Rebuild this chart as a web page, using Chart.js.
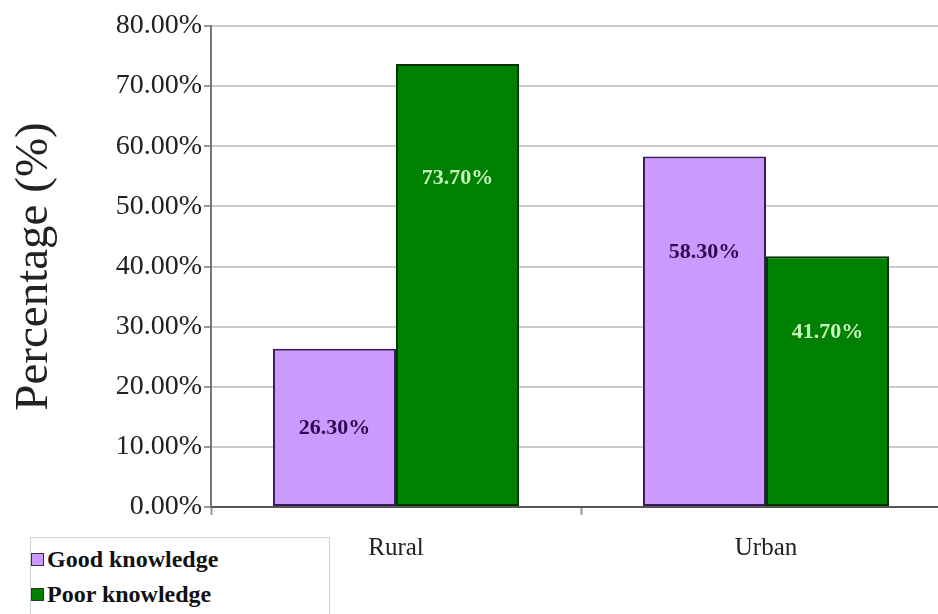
<!DOCTYPE html>
<html>
<head>
<meta charset="utf-8">
<script src="https://cdn.jsdelivr.net/npm/chart.js@4/dist/chart.umd.min.js"></script>
<style>
  html, body { margin: 0; padding: 0; background: #fff; overflow: hidden; }
  body { width: 938px; height: 614px; position: relative; }
  #wrap { position: absolute; left: 0; top: 0; width: 962px; height: 614px; }
  #legend {
    position: absolute; left: 30px; top: 537px; width: 298px; height: 90px;
    border: 1px solid #d0d0d0; background: #fff;
    font-family: "Liberation Serif", serif; font-weight: bold; font-size: 24px; color: #111;
  }
  .item { display: flex; align-items: center; height: 35px; }
  .item:first-child { margin-top: 4px; }
  .sw { width: 13px; height: 13px; margin-right: 3px; box-sizing: border-box; border: 1px solid #333; }
</style>
</head>
<body>
<div id="wrap"><canvas id="chart" width="962" height="614"></canvas></div>
<div id="legend"></div>
<script>
// Data
const categories = ['Rural', 'Urban'];
const goodKnowledge = [26.3, 58.3];
const poorKnowledge = [73.7, 41.7];
// where the value labels sit, in axis units
const goodLabelAt = [13.1, 42.4];
const poorLabelAt = [54.7, 29.1];
const yTicks = [0, 10, 20, 30, 40, 50, 60, 70, 80];

const serif = '"Liberation Serif", "Times New Roman", serif';

// draws the % labels inside the bars
const valueLabels = {
    id: 'valueLabels',
    afterDatasetsDraw(chart) {
        const ctx = chart.ctx;
        const y = chart.scales.y;
        const spots = [goodLabelAt, poorLabelAt];
        const colors = ['#2b0a4d', '#c8f5bd'];
        ctx.save();
        ctx.font = 'bold 22px ' + serif;
        ctx.textAlign = 'center';
        ctx.textBaseline = 'middle';
        chart.data.datasets.forEach((ds, i) => {
            chart.getDatasetMeta(i).data.forEach((bar, j) => {
                ctx.fillStyle = colors[i];
                ctx.fillText(ds.data[j].toFixed(2) + '%', bar.x, y.getPixelForValue(spots[i][j]));
            });
        });
        ctx.restore();
    }
};

const ctx = document.getElementById('chart').getContext('2d');
const chart = new Chart(ctx, {
    type: 'bar',
    data: {
        labels: categories,
        datasets: [{
            label: 'Good knowledge',
            data: goodKnowledge,
            backgroundColor: '#cc99ff',
            borderColor: '#3a1a5c',
            borderWidth: 2,
            borderSkipped: false,
            barPercentage: 1,
            categoryPercentage: 0.665
        }, {
            label: 'Poor knowledge',
            data: poorKnowledge,
            backgroundColor: '#008000',
            borderColor: '#003300',
            borderWidth: 2,
            borderSkipped: false,
            barPercentage: 1,
            categoryPercentage: 0.665
        }]
    },
    options: {
        responsive: false,
        animation: false,
        layout: { padding: { top: 26, right: 11, bottom: 0, left: 0 } },
        plugins: {
            legend: { display: false },
            tooltip: { enabled: false }
        },
        scales: {
            x: {
                offset: true,
                grid: { display: true, drawOnChartArea: false, offset: true, tickLength: 8, tickColor: '#999', tickWidth: 2 },
                border: { color: '#555', width: 2 },
                ticks: { color: '#222', font: { family: serif, size: 25 }, padding: 18 },
                afterFit(scale) { scale.height = 107; }
            },
            y: {
                min: 0,
                max: 80,
                afterBuildTicks(scale) { scale.ticks = yTicks.map(v => ({ value: v })); },
                grid: { color: '#cccccc', lineWidth: 2, tickLength: 7, tickColor: '#999' },
                border: { color: '#777', width: 2 },
                ticks: {
                    color: '#222',
                    font: { family: serif, size: 28 },
                    padding: 2,
                    callback: v => v.toFixed(2) + '%'
                },
                title: {
                    display: true,
                    text: 'Percentage (%)',
                    color: '#222',
                    font: { family: serif, size: 47 },
                    padding: { top: 6, bottom: 0 }
                },
                afterFit(scale) { scale.width = 211; }
            }
        }
    },
    plugins: [valueLabels]
});

// HTML legend built from the datasets
const legend = document.getElementById('legend');
chart.data.datasets.forEach(ds => {
    const row = document.createElement('div');
    row.className = 'item';
    const sw = document.createElement('span');
    sw.className = 'sw';
    sw.style.background = ds.backgroundColor;
    row.appendChild(sw);
    row.appendChild(document.createTextNode(ds.label));
    legend.appendChild(row);
});
</script>
</body>
</html>
